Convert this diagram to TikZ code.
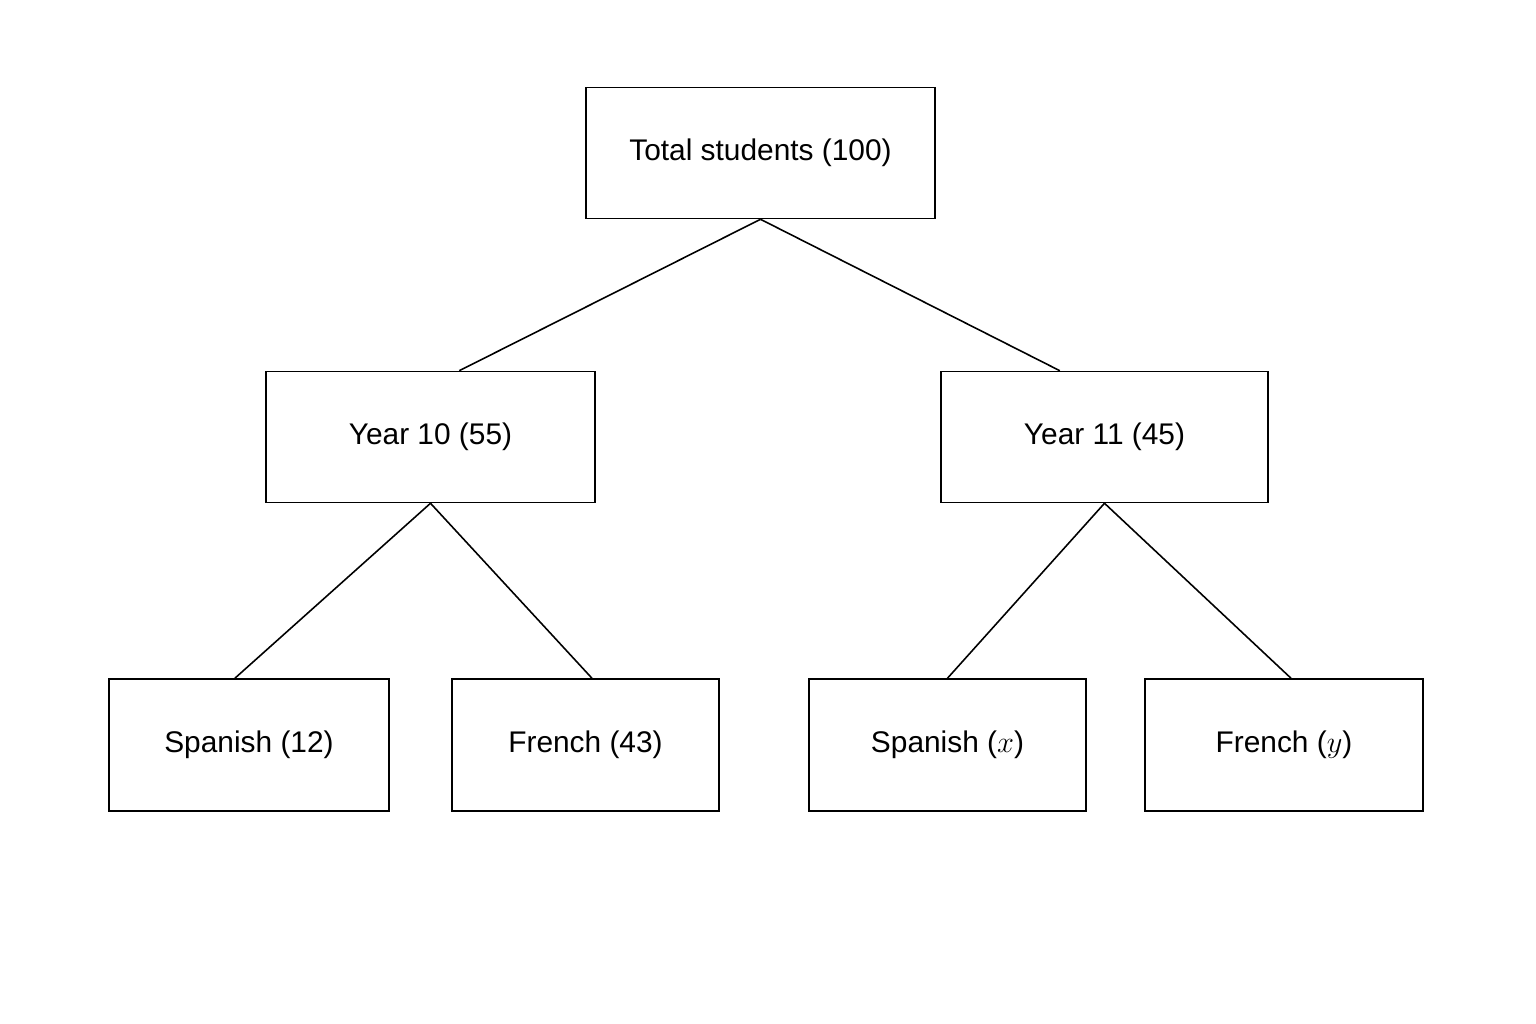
\documentclass[tikz,border=0pt]{standalone}
\usepackage{fontspec}
\setmainfont{Liberation Sans}
\usetikzlibrary{calc}

\tikzset{
  box/.style={draw, line width=0.9pt, minimum height=2.62cm, inner sep=0pt,
    font=\fontsize{17}{20}\selectfont},
  link/.style={line width=0.9pt}
}

\begin{document}
\begin{tikzpicture}[x=0.02cm, y=-0.02cm]
\useasboundingbox (0,0) rectangle (1536,1024);

\node[box, minimum width=6.98cm] (total) at (760.5,153) {Total students (100)};
\node[box, minimum width=6.58cm] (y10) at (430.5,437) {Year 10 (55)};
\node[box, minimum width=6.54cm] (y11) at (1104.5,437) {Year 11 (45)};

\node[box, minimum width=5.6cm, minimum height=2.64cm] (sp10) at (249,745) {Spanish (12)};
\node[box, minimum width=5.34cm, minimum height=2.64cm] (fr10) at (585.5,745) {French (43)};
\node[box, minimum width=5.54cm, minimum height=2.64cm] (sp11) at (947.5,745) {Spanish ($x$)};
\node[box, minimum width=5.56cm, minimum height=2.64cm] (fr11) at (1284,745) {French ($y$)};

% connectors
\draw[link] (total.south) -- ($(y10.north west)!0.587!(y10.north east)$);
\draw[link] (total.south) -- ($(y11.north west)!0.364!(y11.north east)$);
\draw[link] (y10.south) -- ($(sp10.north west)!0.45!(sp10.north east)$);
\draw[link] (y10.south) -- ($(fr10.north west)!0.524!(fr10.north east)$);
\draw[link] (y11.south) -- ($(sp11.north west)!0.5!(sp11.north east)$);
\draw[link] (y11.south) -- ($(fr11.north west)!0.525!(fr11.north east)$);
\end{tikzpicture}
\end{document}
